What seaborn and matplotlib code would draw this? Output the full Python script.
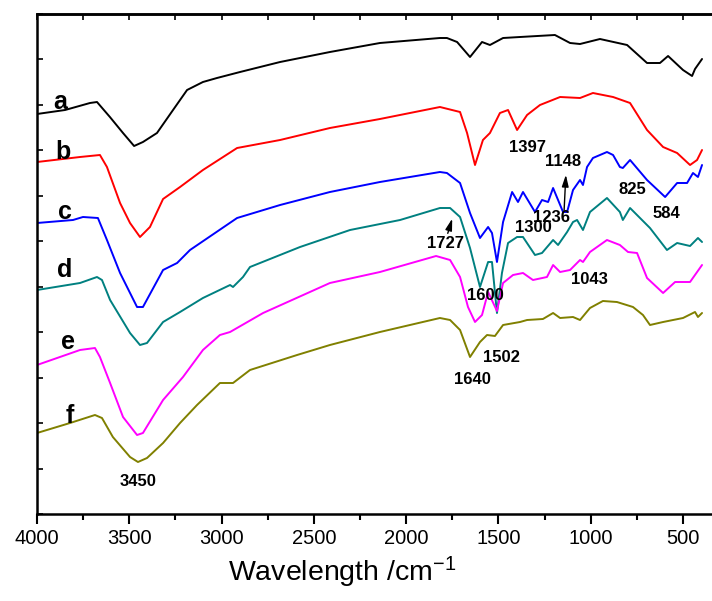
import matplotlib
matplotlib.use('Agg')
import matplotlib.pyplot as plt
from matplotlib.ticker import MultipleLocator
import seaborn as sns
import numpy as np
import pandas as pd

# FTIR spectra, samples a-f
samples = ['a', 'b', 'c', 'd', 'e', 'f']
colors = ['#000000', '#ff0000', '#0000ff', '#008080', '#ff00ff', '#808000']

wn_a = [4000, 3848, 3713, 3675, 3605, 3534, 3474, 3426, 3350, 3263, 3187, 3101, 3025, 2900, 2683, 2413, 2142,
        1817, 1779, 1724, 1654, 1589, 1546, 1475, 1383, 1194, 1112, 1058, 950, 803, 695, 625, 581, 500, 451, 435, 397]
t_a = [80.0, 80.8, 82.2, 82.4, 79.4, 76.2, 73.6, 74.4, 76.2, 80.8, 84.8, 86.4, 87.2, 88.4, 90.4, 92.4, 94.2,
       95.2, 95.2, 94.4, 91.4, 94.4, 93.8, 95.2, 95.4, 95.8, 94.2, 94.0, 95.0, 93.8, 90.2, 90.2, 91.6, 88.8, 87.6, 89.0, 91.0]

wn_b = [4000, 3767, 3659, 3621, 3550, 3496, 3442, 3388, 3317, 3225, 3101, 2916, 2683, 2413, 2142, 1817, 1708,
        1670, 1627, 1584, 1546, 1492, 1448, 1399, 1345, 1275, 1166, 1058, 988, 879, 787, 695, 608, 532, 462, 424, 397]
t_b = [70.4, 71.4, 71.8, 69.4, 62.2, 58.2, 55.4, 57.4, 63.0, 65.4, 68.8, 73.2, 74.8, 77.2, 79.0, 81.4, 80.4,
       76.2, 69.8, 74.8, 76.2, 80.2, 80.8, 76.8, 79.8, 81.8, 83.4, 83.2, 84.2, 83.4, 82.2, 76.8, 73.4, 72.2, 69.8, 70.8, 72.8]

wn_c = [4000, 3805, 3751, 3670, 3621, 3550, 3458, 3426, 3317, 3241, 3171, 2916, 2683, 2413, 2142, 1817, 1779,
        1708, 1654, 1600, 1556, 1535, 1508, 1475, 1426, 1394, 1367, 1302, 1264, 1231, 1204, 1150, 1128, 1096,
        1058, 1042, 1020, 988, 912, 879, 842, 826, 787, 695, 597, 532, 478, 446, 419, 397]
t_c = [58.2, 58.8, 59.4, 59.2, 54.8, 48.2, 41.4, 41.4, 48.8, 50.2, 52.8, 59.2, 61.8, 64.4, 66.4, 68.4, 68.2,
       66.2, 60.2, 55.2, 57.4, 56.2, 50.4, 58.4, 64.4, 62.4, 64.4, 60.4, 62.8, 62.4, 65.2, 60.4, 60.4, 64.8,
       66.8, 65.8, 69.4, 71.2, 72.4, 71.8, 69.4, 69.2, 70.8, 66.8, 63.4, 66.2, 66.2, 68.2, 67.4, 69.8]

wn_d = [4000, 3767, 3675, 3648, 3604, 3496, 3442, 3404, 3317, 3225, 3101, 2954, 2938, 2884, 2846, 2575, 2304,
        2033, 1817, 1762, 1708, 1654, 1600, 1556, 1535, 1508, 1481, 1448, 1399, 1367, 1302, 1264, 1204, 1177,
        1128, 1096, 1074, 1042, 1004, 912, 842, 826, 787, 679, 587, 532, 462, 419, 397]
t_d = [44.8, 46.2, 47.4, 46.8, 42.8, 36.2, 33.8, 34.2, 38.4, 40.4, 43.2, 45.8, 45.4, 47.4, 49.4, 53.4, 56.8,
       58.8, 61.2, 61.2, 59.4, 53.2, 45.4, 50.4, 50.4, 40.2, 48.2, 54.2, 55.4, 55.4, 51.8, 52.2, 54.8, 53.8,
       56.4, 58.4, 58.8, 56.8, 60.4, 63.2, 60.4, 58.8, 61.2, 57.2, 52.8, 54.2, 53.6, 55.2, 54.4]

wn_e = [4000, 3767, 3686, 3659, 3604, 3534, 3458, 3426, 3317, 3209, 3101, 3009, 2954, 2775, 2413, 2142, 1838,
        1762, 1708, 1665, 1627, 1589, 1556, 1508, 1475, 1421, 1367, 1313, 1237, 1204, 1166, 1112, 1058, 1042,
        1004, 912, 842, 798, 749, 695, 608, 543, 462, 397]
t_e = [29.8, 32.8, 33.2, 31.4, 26.2, 19.4, 15.8, 16.2, 22.8, 27.4, 32.8, 35.8, 36.4, 40.2, 46.2, 48.4, 51.6,
       50.8, 47.4, 41.4, 38.4, 39.8, 44.4, 40.6, 46.2, 47.8, 48.2, 46.8, 47.4, 49.8, 48.4, 48.8, 50.8, 50.4,
       52.4, 54.8, 53.8, 52.4, 52.2, 47.2, 44.2, 46.4, 46.4, 49.8]

wn_f = [4000, 3821, 3686, 3648, 3589, 3496, 3453, 3404, 3317, 3225, 3133, 3009, 2938, 2846, 2591, 2413, 2142,
        1817, 1762, 1708, 1654, 1600, 1562, 1519, 1475, 1383, 1345, 1259, 1204, 1166, 1096, 1058, 1004, 934,
        858, 771, 717, 679, 608, 500, 435, 419, 397]
t_f = [16.2, 18.2, 19.8, 19.2, 15.4, 11.4, 10.4, 11.2, 14.2, 18.2, 21.8, 26.2, 26.2, 28.8, 31.8, 33.8, 36.4,
       39.2, 38.8, 36.8, 31.4, 34.4, 35.8, 35.6, 37.8, 38.4, 38.8, 39.0, 40.2, 39.2, 39.4, 38.8, 41.2, 42.6,
       42.4, 41.4, 39.8, 37.8, 38.4, 39.2, 40.4, 39.4, 40.2]

# curve letters (wavenumber, T) and peak labels
letter_pos = [(3875, 82.4), (3859, 72.4), (3848, 60.4), (3848, 48.8), (3832, 34.4), (3821, 19.6)]
peak_labels = ['1397', '1148', '1236', '1300', '825', '584', '1727', '1600', '1043', '1502', '1640', '3450']
peak_pos = [(1345, 73.4), (1150, 70.6), (1210, 59.4), (1313, 57.4), (776, 65.0), (592, 60.2),
            (1789, 54.0), (1573, 43.6), (1009, 46.8), (1486, 31.2), (1643, 27.0), (3453, 6.4)]

df = pd.concat([
    pd.DataFrame({'wavenumber': w, 'T': t, 'sample': s})
    for w, t, s in zip([wn_a, wn_b, wn_c, wn_d, wn_e, wn_f],
                       [t_a, t_b, t_c, t_d, t_e, t_f], samples)
], ignore_index=True)

sns.set_style('ticks')
plt.rcParams['font.family'] = ['Liberation Sans', 'DejaVu Sans']
plt.rcParams.update({'text.color': 'black', 'axes.labelcolor': 'black', 'axes.edgecolor': 'black',
                     'xtick.color': 'black', 'ytick.color': 'black', 'mathtext.default': 'regular'})

fig = plt.figure(figsize=(7.12, 6.01), dpi=100)
ax = fig.add_axes([37 / 712, 87 / 601, 675 / 712, 500 / 601])

sns.lineplot(data=df, x='wavenumber', y='T', hue='sample', palette=dict(zip(samples, colors)),
             estimator=None, legend=False, linewidth=1.4, ax=ax)

ax.set_xlim(4000, 343)
ax.set_ylim(0, 100)
ax.set_ylabel('')
ax.set_xlabel('Wavelength /cm$^{-1}$', fontsize=20.5, labelpad=5)
ax.xaxis.label.set_x(0.452)

ax.xaxis.set_major_locator(MultipleLocator(500))
ax.xaxis.set_minor_locator(MultipleLocator(250))
ax.tick_params(axis='x', which='major', direction='out', length=7, width=1.5, labelsize=14.5, pad=4)
ax.tick_params(axis='x', which='minor', direction='out', length=4, width=1.5)
ax.set_yticks(np.linspace(0, 100, 12))
ax.tick_params(axis='y', direction='in', length=4, width=1.2, labelleft=False)

top = ax.secondary_xaxis('top')
top.set_xticks(np.arange(500, 4001, 250))
top.tick_params(direction='in', length=4, width=1.2, labeltop=False)
top.spines['top'].set_linewidth(1.8)

for side in ['left', 'bottom', 'top']:
    ax.spines[side].set_linewidth(1.8)
ax.spines['right'].set_visible(False)

for s, (x, y) in zip(samples, letter_pos):
    ax.text(x, y, s, fontsize=18, fontweight='bold', ha='center', va='center')

for lab, (x, y) in zip(peak_labels, peak_pos):
    ax.text(x, y, lab, fontsize=12, fontweight='bold', ha='center', va='center')

arrow = dict(arrowstyle='-|>,head_length=0.7,head_width=0.2', color='black', lw=1.0)
ax.annotate('', xy=(1134, 68.4), xytext=(1145, 60.2), arrowprops=arrow)
ax.annotate('', xy=(1746, 59.6), xytext=(1779, 55.6), arrowprops=arrow)

fig.savefig('out.png', dpi=100)
